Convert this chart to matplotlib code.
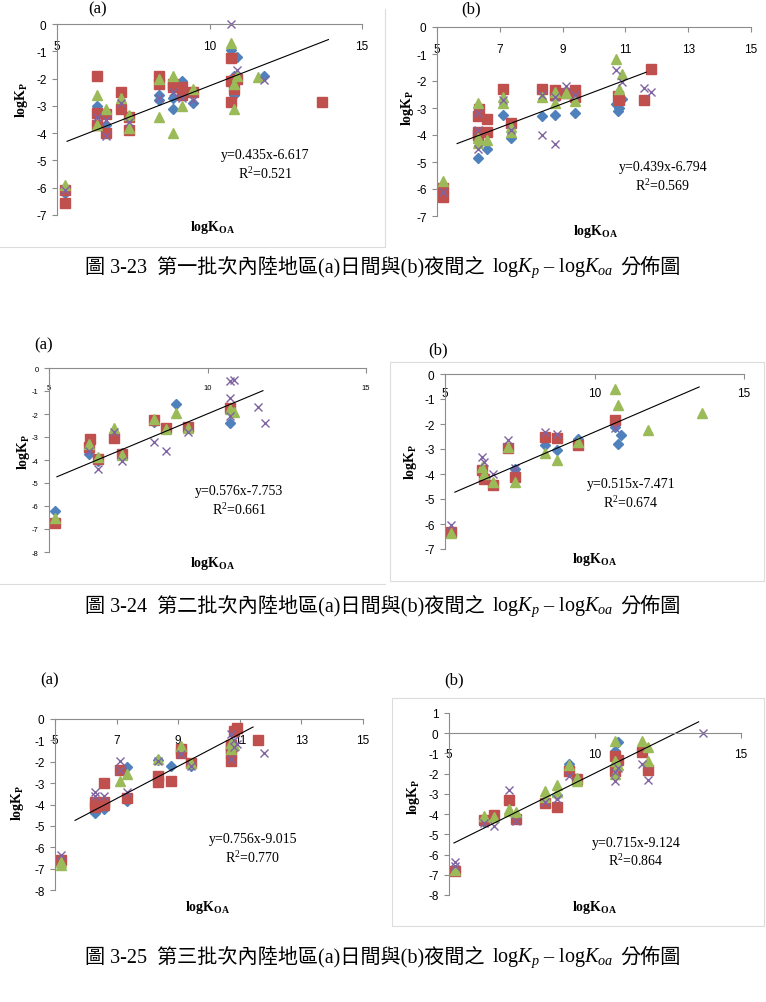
import matplotlib
matplotlib.use("Agg")
import matplotlib.pyplot as plt
from matplotlib.lines import Line2D
from matplotlib.patches import Rectangle
from matplotlib.offsetbox import TextArea, HPacker, AnchoredOffsetbox

plt.rcParams['axes.unicode_minus'] = False
plt.rcParams['mathtext.fontset'] = 'custom'
plt.rcParams['mathtext.rm'] = 'Liberation Serif'
plt.rcParams['mathtext.it'] = 'Liberation Serif:italic'
plt.rcParams['mathtext.bf'] = 'Liberation Serif:bold'

# ---- data: figure 3-23 (a) day, (b) night ----
p23a_blue_x = [5.25, 6.3, 6.3, 6.6, 8.35, 8.35, 8.8, 8.8, 9.1, 9.45, 10.7, 10.8, 10.8, 10.9, 11.8]
p23a_blue_y = [-6.2, -3.0, -3.3, -3.7, -2.6, -2.8, -2.7, -3.1, -2.1, -2.9, -0.95, -2.6, -1.9, -1.2, -1.9]
p23a_red_x = [5.25, 5.25, 6.3, 6.3, 6.3, 6.6, 6.6, 7.1, 7.1, 7.35, 7.35, 8.35, 8.35, 8.8, 8.8, 9.1, 9.1,
              9.45, 10.7, 10.7, 10.7, 10.8, 10.9, 13.7]
p23a_red_y = [-6.1, -6.55, -1.9, -3.25, -3.7, -3.3, -4.0, -2.5, -3.1, -3.4, -3.9, -1.9, -2.2, -2.2, -2.3,
              -2.3, -2.6, -2.5, -1.25, -2.1, -2.85, -2.4, -2.0, -2.85]
p23a_green_x = [5.25, 6.3, 6.3, 6.6, 7.1, 7.35, 7.35, 8.35, 8.35, 8.8, 8.8, 9.1, 9.45, 10.7, 10.8, 10.8, 10.9, 11.6]
p23a_green_y = [-5.9, -2.6, -3.7, -3.1, -2.7, -3.35, -3.8, -2.0, -3.4, -1.9, -4.0, -3.0, -2.4, -0.7, -3.1, -2.2,
                -1.9, -1.95]
p23a_purple_x = [5.25, 6.3, 6.6, 6.6, 7.1, 7.35, 8.35, 8.8, 9.1, 9.45, 10.7, 10.9, 11.8]
p23a_purple_y = [-6.1, -3.4, -4.1, -3.5, -2.9, -3.6, -2.7, -2.5, -2.7, -2.8, 0.0, -1.7, -2.05]

p23b_blue_x = [5.2, 6.3, 6.3, 6.6, 7.1, 7.35, 8.35, 8.75, 9.4, 10.7, 10.75, 10.8, 10.9]
p23b_blue_y = [-6.0, -4.2, -4.85, -4.5, -3.25, -4.1, -3.3, -3.25, -3.2, -2.85, -3.1, -3.0, -2.65]
p23b_red_x = [5.2, 5.2, 6.3, 6.3, 6.3, 6.35, 6.6, 6.6, 7.1, 7.35, 8.35, 8.75, 8.75, 9.1, 9.4, 9.4, 10.75,
              10.8, 11.6, 11.8]
p23b_red_y = [-6.3, -5.95, -3.3, -3.9, -4.0, -3.05, -3.4, -3.9, -2.3, -3.55, -2.3, -2.35, -2.5, -2.45, -2.35,
              -2.6, -2.55, -2.7, -2.7, -1.55]
p23b_green_x = [5.2, 6.3, 6.3, 6.3, 6.6, 7.1, 7.1, 7.35, 7.35, 8.35, 8.75, 8.75, 9.1, 9.4, 10.7, 10.8, 10.9]
p23b_green_y = [-5.7, -2.8, -4.1, -4.3, -4.2, -2.6, -2.8, -3.7, -3.9, -2.6, -2.8, -2.4, -2.45, -2.75, -1.2,
                -2.3, -1.75]
p23b_purple_x = [5.2, 6.3, 6.3, 6.3, 7.1, 7.35, 8.35, 8.35, 8.75, 8.75, 9.1, 9.4, 10.7, 10.9, 11.6, 11.8]
p23b_purple_y = [-6.1, -4.5, -3.8, -3.2, -2.7, -3.8, -4.0, -2.5, -4.35, -2.6, -2.2, -2.5, -1.6, -2.05, -2.25, -2.4]

# ---- data: figure 3-24 ----
p24a_blue_x = [5.2, 6.25, 6.55, 7.3, 8.3, 9.0, 10.7]
p24a_blue_y = [-6.2, -3.75, -4.05, -3.7, -2.35, -1.55, -2.4]
p24a_red_x = [5.2, 6.25, 6.3, 6.55, 7.05, 7.3, 8.3, 8.7, 9.4, 10.7]
p24a_red_y = [-6.75, -3.45, -3.1, -3.95, -3.05, -3.75, -2.25, -2.6, -2.55, -1.75]
p24a_green_x = [5.2, 6.25, 6.55, 7.05, 7.3, 8.3, 8.7, 9.0, 9.4, 10.7, 10.85]
p24a_green_y = [-6.5, -3.3, -3.85, -2.6, -3.8, -2.2, -2.65, -1.95, -2.6, -1.8, -1.9]
p24a_purple_x = [6.25, 6.55, 7.05, 7.3, 8.3, 8.7, 9.4, 10.7, 10.7, 10.7, 10.85, 11.6, 11.8]
p24a_purple_y = [-3.6, -4.4, -2.8, -4.05, -3.2, -3.6, -2.8, -0.55, -1.3, -2.1, -0.5, -1.7, -2.4]

p24b_blue_x = [7.35, 8.35, 8.75, 9.45, 10.7, 10.8, 10.9]
p24b_blue_y = [-3.8, -2.85, -3.05, -2.6, -2.1, -2.8, -2.45]
p24b_red_x = [5.2, 6.25, 6.3, 6.6, 7.1, 7.35, 8.35, 8.75, 9.45, 10.7]
p24b_red_y = [-6.3, -3.85, -4.2, -4.45, -2.95, -4.1, -2.5, -2.55, -2.85, -1.85]
p24b_green_x = [5.2, 6.25, 6.3, 6.6, 7.1, 7.35, 8.35, 8.75, 9.45, 10.7, 10.8, 11.8, 13.6]
p24b_green_y = [-6.35, -3.7, -4.0, -4.3, -2.9, -4.3, -3.15, -3.45, -2.7, -0.6, -1.25, -2.25, -1.55]
p24b_purple_x = [5.2, 6.25, 6.3, 6.6, 7.1, 7.35, 8.35, 8.75, 10.7]
p24b_purple_y = [-6.05, -3.3, -3.5, -4.0, -2.65, -3.75, -2.3, -2.4, -2.15]

# ---- data: figure 3-25 ----
p25a_blue_x = [5.2, 6.3, 6.6, 7.35, 7.35, 8.35, 8.75, 9.1, 9.4, 10.7]
p25a_blue_y = [-6.7, -4.4, -4.2, -2.25, -3.85, -1.9, -2.2, -1.35, -2.2, -1.1]
p25a_red_x = [5.2, 6.3, 6.3, 6.6, 6.6, 6.6, 7.1, 7.35, 8.35, 8.35, 8.75, 9.1, 9.1, 9.4, 10.7, 10.7, 10.7,
              10.7, 10.8, 10.9, 11.6]
p25a_red_y = [-6.6, -3.9, -4.1, -3.0, -3.9, -4.0, -2.4, -3.7, -2.65, -2.95, -2.9, -1.4, -1.6, -2.05, -1.2,
              -1.35, -1.6, -1.95, -0.55, -0.4, -1.0]
p25a_green_x = [5.2, 5.2, 7.1, 7.35, 8.35, 9.1, 9.4, 10.7, 10.7, 10.8]
p25a_green_y = [-6.85, -6.7, -2.9, -2.55, -1.85, -1.25, -2.05, -1.1, -1.4, -1.2]
p25a_purple_x = [5.2, 6.3, 6.3, 6.6, 7.1, 7.1, 7.35, 8.35, 9.1, 9.4, 10.7, 10.7, 10.8, 10.8, 10.9, 11.8]
p25a_purple_y = [-6.35, -3.4, -3.6, -3.6, -1.95, -2.4, -3.4, -1.95, -1.65, -2.2, -0.7, -1.85, -1.0, -1.3,
                 -1.15, -1.6]

p25b_blue_x = [6.2, 8.7, 9.1, 10.7, 10.7, 10.8, 11.6]
p25b_blue_y = [-4.4, -3.05, -1.5, -0.9, -1.7, -0.45, -0.75]
p25b_red_x = [5.2, 6.2, 6.55, 7.05, 7.3, 8.3, 8.7, 9.1, 9.4, 10.7, 10.7, 10.8, 11.6, 11.8]
p25b_red_y = [-6.8, -4.3, -4.05, -3.3, -4.25, -3.45, -3.65, -1.85, -2.25, -1.15, -1.85, -1.3, -0.95, -1.8]
p25b_green_x = [5.2, 6.2, 6.55, 7.05, 7.05, 7.3, 8.3, 8.3, 8.7, 8.7, 9.1, 9.4, 9.4, 10.7, 10.7, 10.7, 10.8,
                11.6, 11.8, 11.8]
p25b_green_y = [-6.75, -4.1, -4.15, -3.75, -3.85, -3.9, -2.85, -3.15, -2.55, -2.9, -1.55, -2.2, -2.35, -0.4,
                -2.0, -1.35, -1.55, -0.4, -0.7, -1.35]
p25b_purple_x = [5.2, 5.2, 6.2, 6.55, 7.05, 7.3, 8.3, 8.7, 9.1, 10.7, 10.7, 10.8, 11.6, 11.8, 13.7]
p25b_purple_y = [-6.35, -6.55, -4.45, -4.6, -2.8, -4.35, -3.4, -3.25, -2.1, -2.35, -1.9, -1.7, -1.5, -2.3, 0.0]

# regression (slope, intercept, r2, x start, x end)
fits = [(0.435, -6.617, 0.521, 5.33, 13.9),
        (0.439, -6.794, 0.569, 5.64, 11.66),
        (0.576, -7.753, 0.661, 5.25, 11.75),
        (0.515, -7.471, 0.674, 5.33, 13.5),
        (0.756, -9.015, 0.770, 5.65, 11.43),
        (0.715, -9.124, 0.864, 5.17, 13.55)]

caption_head = ["圖 3-23  第一批次內陸地區(a)日間與(b)夜間之",
                "圖 3-24  第二批次內陸地區(a)日間與(b)夜間之",
                "圖 3-25  第三批次內陸地區(a)日間與(b)夜間之"]
caption_math = r"log$K_p$ – log$K_{oa}$"
caption_tail = "分佈圖"

W, H = 766, 1003
fig = plt.figure(figsize=(W / 100, H / 100), dpi=100)

BLUE, RED, GREEN, PURPLE = '#4F81BD', '#C0504D', '#9BBB59', '#8064A2'
AXC = '#8c8c8c'
CJK = ['Liberation Serif', 'Noto Sans CJK TC']


def fx(px):
    return px / W


def fy(py):
    return 1 - py / H


def panel(box, ylim, xticks, series, fit, lab_fs, xpad, xlab, ylab, eq_pos, tag, tag_pos):
    l, t, r, b = box
    ax = fig.add_axes([fx(l), fy(b), (r - l) / W, (b - t) / H])
    ax.patch.set_alpha(0)
    (bx, by), (rx, ry), (gx, gy), (px_, py_) = series
    ax.plot(bx, by, 'D', color=BLUE, ms=5, clip_on=False)
    ax.plot(rx, ry, 's', color=RED, ms=7, clip_on=False)
    ax.plot(gx, gy, '^', color=GREEN, ms=7, clip_on=False)
    ax.plot(px_, py_, 'x', color=PURPLE, ms=6, mew=1, clip_on=False)
    k, c, r2, x0, x1 = fit
    ax.plot([x0, x1], [k * x0 + c, k * x1 + c], color='black', lw=0.8, clip_on=False)
    ax.set_xlim(5, 15)
    ax.set_ylim(*ylim)
    ax.set_xticks(xticks)
    ax.set_yticks(range(ylim[0], ylim[1] + 1))
    for s in ['top', 'right']:
        ax.spines[s].set_visible(False)
    ax.spines['bottom'].set_position(('data', 0))
    for s in ['bottom', 'left']:
        ax.spines[s].set_color(AXC)
        ax.spines[s].set_linewidth(0.8)
    ax.tick_params(axis='both', color=AXC, labelcolor='black', length=3.5, width=0.8,
                   labelsize=lab_fs)
    ax.tick_params(axis='x', pad=xpad)
    ax.tick_params(axis='y', pad=4)
    for lbl in ax.get_xticklabels() + ax.get_yticklabels():
        lbl.set_fontfamily('Liberation Sans')
    fig.text(fx(xlab[0]), fy(xlab[1]), r'logK$_{\mathbf{OA}}$', family='Liberation Serif',
             fontweight='bold', fontsize=10, ha='center', va='center')
    fig.text(fx(ylab[0]), fy(ylab[1]), r'logK$_{\mathbf{P}}$', family='Liberation Serif',
             fontweight='bold', fontsize=10, ha='center', va='center', rotation=90)
    ex, ey = eq_pos
    fig.text(fx(ex), fy(ey), 'y=%.3fx%.3f' % (k, c), family='Liberation Serif', fontsize=10,
             ha='center', va='center')
    fig.text(fx(ex), fy(ey + 18), 'R$^2$=%.3f' % r2, family='Liberation Serif', fontsize=10,
             ha='center', va='center')
    fig.text(fx(tag_pos[0]), fy(tag_pos[1]), tag, family='Liberation Serif', fontsize=12,
             ha='center', va='center')
    return ax


panel((57, 25, 362, 216), (-7, 0), [5, 10, 15],
      [(p23a_blue_x, p23a_blue_y), (p23a_red_x, p23a_red_y), (p23a_green_x, p23a_green_y),
       (p23a_purple_x, p23a_purple_y)],
      fits[0], 8.5, 8, (213, 227), (22, 100), (265, 156), '(a)', (98, 9))
panel((437, 28, 751, 217), (-7, 0), [5, 7, 9, 11, 13, 15],
      [(p23b_blue_x, p23b_blue_y), (p23b_red_x, p23b_red_y), (p23b_green_x, p23b_green_y),
       (p23b_purple_x, p23b_purple_y)],
      fits[1], 8.5, 8, (596, 232), (408, 108), (663, 168), '(b)', (471, 9))
panel((49, 369, 366, 553), (-8, 0), [5, 10, 15],
      [(p24a_blue_x, p24a_blue_y), (p24a_red_x, p24a_red_y), (p24a_green_x, p24a_green_y),
       (p24a_purple_x, p24a_purple_y)],
      fits[2], 5.5, 8, (213, 563), (23, 452), (239, 492), '(a)', (44, 345))
panel((445, 375, 744, 550), (-7, 0), [5, 10, 15],
      [(p24b_blue_x, p24b_blue_y), (p24b_red_x, p24b_red_y), (p24b_green_x, p24b_green_y),
       (p24b_purple_x, p24b_purple_y)],
      fits[3], 8.5, 6, (595, 560), (411, 462), (631, 485), '(b)', (438, 350))
panel((55, 720, 363, 891), (-8, 0), [5, 7, 9, 11, 13, 15],
      [(p25a_blue_x, p25a_blue_y), (p25a_red_x, p25a_red_y), (p25a_green_x, p25a_green_y),
       (p25a_purple_x, p25a_purple_y)],
      fits[4], 8.5, 7, (208, 908), (18, 803), (253, 840), '(a)', (50, 680))
panel((449, 714, 741, 896), (-8, 1), [5, 10, 15],
      [(p25b_blue_x, p25b_blue_y), (p25b_red_x, p25b_red_y), (p25b_green_x, p25b_green_y),
       (p25b_purple_x, p25b_purple_y)],
      fits[5], 8.5, 7, (595, 908), (413, 797), (636, 843), '(b)', (454, 680))

# faint chart-area borders
BC = '#dcdcdc'
fig.add_artist(Line2D([fx(385), fx(385)], [fy(10), fy(248)], color=BC, lw=0.8))
fig.add_artist(Line2D([fx(0), fx(385)], [fy(248), fy(248)], color=BC, lw=0.8))
fig.add_artist(Line2D([fx(0), fx(385)], [fy(585), fy(585)], color=BC, lw=0.8))
for (l, t, r, b) in [(390, 363, 764, 582), (392, 699, 764, 927)]:
    fig.add_artist(Rectangle((fx(l), fy(b)), (r - l) / W, (b - t) / H, fill=False,
                             edgecolor=BC, lw=0.8))

# captions: CJK text and math part packed side by side
for head, cy in zip(caption_head, [268, 607, 958]):
    parts = [TextArea(head, textprops=dict(family=CJK, fontsize=14.5)),
             TextArea(caption_math, textprops=dict(family='Liberation Serif', fontsize=14.5)),
             TextArea(caption_tail, textprops=dict(family=CJK, fontsize=14.5))]
    row = HPacker(children=parts, align='baseline', pad=0, sep=5)
    box = AnchoredOffsetbox(loc='center', child=row, pad=0, borderpad=0, frameon=False,
                            bbox_to_anchor=(0.5, fy(cy)), bbox_transform=fig.transFigure)
    fig.add_artist(box)

fig.savefig('out.png', dpi=100)
